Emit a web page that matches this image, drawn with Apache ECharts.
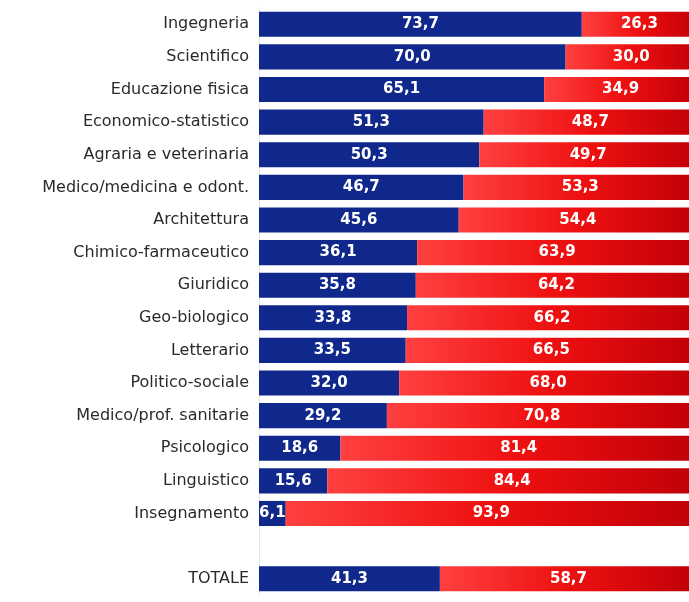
<!DOCTYPE html>
<html><head><meta charset="utf-8">
<script src="https://cdn.jsdelivr.net/npm/echarts@6/dist/echarts.min.js"></script>
<style>html,body{margin:0;padding:0;background:#fff;overflow:hidden;width:689px;height:602px}#c{width:700px;height:602px}</style>
</head><body><div id="c"></div>
<script>
const categories = ["Ingegneria","Scientifico","Educazione fisica","Economico-statistico","Agraria e veterinaria","Medico/medicina e odont.","Architettura","Chimico-farmaceutico","Giuridico","Geo-biologico","Letterario","Politico-sociale","Medico/prof. sanitarie","Psicologico","Linguistico","Insegnamento","","TOTALE"];
const blueValues = [73.7,70.0,65.1,51.3,50.3,46.7,45.6,36.1,35.8,33.8,33.5,32.0,29.2,18.6,15.6,6.1,null,41.3];
const redValues = [26.3,30.0,34.9,48.7,49.7,53.3,54.4,63.9,64.2,66.2,66.5,68.0,70.8,81.4,84.4,93.9,null,58.7];

const chart = echarts.init(document.getElementById('c'));
const fmt = p => p.value == null ? '' : p.value.toFixed(1).replace('.', ',');
const lbl = {show:true, position:'inside', color:'#ffffff', fontFamily:'DejaVu Sans', fontWeight:'bold', fontSize:15, formatter: fmt};
chart.setOption({
  animation:false,
  grid:{left:259, top:8, width:438, height:587, containLabel:false},
  xAxis:{type:'value', min:0, max:100, show:false},
  yAxis:{type:'category', data:categories, inverse:true,
    axisLine:{show:true, lineStyle:{color:'#e6e6e6', width:1}},
    axisTick:{show:false},
    axisLabel:{color:'#2a2a2a', fontFamily:'DejaVu Sans', fontSize:16, margin:10}},
  series:[
    {type:'bar', stack:'a', data:blueValues, barCategoryGap:'23%',
     itemStyle:{color:'#10288c'}, label:lbl},
    {type:'bar', stack:'a', data:redValues, barCategoryGap:'23%',
     itemStyle:{color:new echarts.graphic.LinearGradient(0,0,1,0,[{offset:0,color:'#ff4040'},{offset:0.5,color:'#ee1010'},{offset:1,color:'#c00008'}])},
     label:lbl}
  ]
});
</script></body></html>
